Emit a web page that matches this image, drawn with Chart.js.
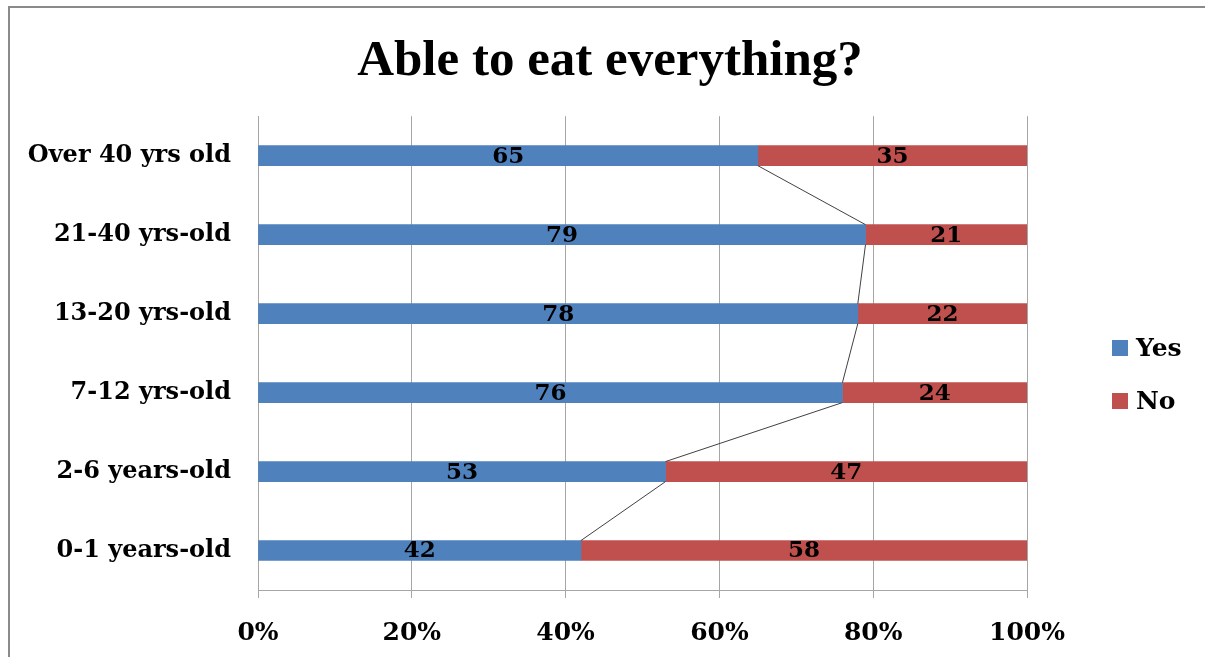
<!DOCTYPE html>
<html>
<head>
<meta charset="utf-8">
<script src="https://cdn.jsdelivr.net/npm/chart.js@4/dist/chart.umd.min.js"></script>
<style>
  html, body { margin: 0; padding: 0; width: 1205px; height: 657px; overflow: hidden; background: #ffffff; }
  #frame { position: absolute; left: 8px; top: 6px; width: 1400px; height: 900px; border: 2px solid #8a8a8a; box-sizing: border-box; }
  #wrap { position: absolute; left: 0; top: 0; width: 1205px; height: 657px; }
</style>
</head>
<body>
<div id="frame"></div>
<div id="wrap"><canvas id="c" width="1205" height="657"></canvas></div>
<script>
const categories = ["Over 40 yrs old", "21-40 yrs-old", "13-20 yrs-old", "7-12 yrs-old", "2-6 years-old", "0-1 years-old"];
const yesValues = [65, 79, 78, 76, 53, 42];
const noValues = [35, 21, 22, 24, 47, 58];
const seriesNames = ["Yes", "No"];
const xTicks = [0, 20, 40, 60, 80, 100];
const titleText = "Able to eat everything?";

const TITLE_FONT = "'Liberation Serif', 'Times New Roman', serif";
const FONT = "'DejaVu Serif', 'Liberation Serif', serif";
const BLUE = "#4F81BD";
const RED = "#C0504D";
const GRID = "#a6a6a6";

// Series lines joining the ends of the "Yes" bars (Excel series lines)
const seriesLinesPlugin = {
  id: 'seriesLines',
  afterDatasetsDraw(chart) {
    const meta = chart.getDatasetMeta(0);
    const ctx = chart.ctx;
    ctx.save();
    ctx.strokeStyle = "#404040";
    ctx.lineWidth = 1;
    for (let i = 0; i < meta.data.length - 1; i++) {
      const a = meta.data[i], b = meta.data[i + 1];
      ctx.beginPath();
      ctx.moveTo(a.x, a.y + a.height / 2);
      ctx.lineTo(b.x, b.y - b.height / 2);
      ctx.stroke();
    }
    ctx.restore();
  }
};

// Value labels centred in each segment
const valueLabelsPlugin = {
  id: 'valueLabels',
  afterDatasetsDraw(chart) {
    const ctx = chart.ctx;
    ctx.save();
    ctx.font = "bold 23px " + FONT;
    ctx.fillStyle = "#000";
    ctx.textAlign = "center";
    ctx.textBaseline = "middle";
    chart.data.datasets.forEach((ds, di) => {
      const meta = chart.getDatasetMeta(di);
      meta.data.forEach((el, i) => {
        const cx = (el.x + el.base) / 2;
        ctx.fillText(String(ds.data[i]), cx, el.y + 1);
      });
    });
    ctx.restore();
  }
};

// Legend on the right, drawn from the datasets
const sideLegendPlugin = {
  id: 'sideLegend',
  afterDraw(chart) {
    const ctx = chart.ctx;
    const area = chart.chartArea;
    ctx.save();
    ctx.font = "bold 25px " + FONT;
    ctx.textBaseline = "middle";
    ctx.textAlign = "left";
    const x0 = area.right + 85;
    const yStart = 348;
    const step = 53;
    chart.data.datasets.forEach((ds, i) => {
      const y = yStart + i * step;
      ctx.fillStyle = ds.backgroundColor;
      ctx.fillRect(x0, y - 8, 16, 16);
      ctx.fillStyle = "#000";
      ctx.fillText(ds.label, x0 + 24, y + 1);
    });
    ctx.restore();
  }
};

new Chart(document.getElementById('c'), {
  type: 'bar',
  data: {
    labels: categories,
    datasets: [
      { label: seriesNames[0], data: yesValues, backgroundColor: BLUE, borderWidth: 0 },
      { label: seriesNames[1], data: noValues, backgroundColor: RED, borderWidth: 0 }
    ]
  },
  options: {
    indexAxis: 'y',
    responsive: false,
    animation: false,
    devicePixelRatio: 1,
    barThickness: 20,
    layout: { padding: { left: 15, right: 0, top: 0, bottom: 0 } },
    plugins: {
      legend: { display: false },
      tooltip: { enabled: false },
      title: {
        display: true,
        text: titleText,
        color: "#000",
        font: { family: TITLE_FONT, size: 51, weight: 'bold' },
        padding: { top: 31, bottom: 24 }
      }
    },
    scales: {
      x: {
        stacked: true,
        min: 0,
        max: 100,
        afterBuildTicks(scale) { scale.ticks = xTicks.map(v => ({ value: v })); },
        afterFit(scale) { scale.height = 67; },
        grid: { color: GRID, lineWidth: 1, drawTicks: true, tickLength: 8 },
        border: { display: true, color: GRID, width: 1 },
        ticks: {
          color: "#000",
          padding: 20,
          font: { family: FONT, size: 25, weight: 'bold' },
          callback: v => v + '%',
          maxRotation: 0
        }
      },
      y: {
        stacked: true,
        afterFit(scale) { scale.width = 243; },
        grid: { display: false, drawTicks: false },
        border: { display: true, color: GRID, width: 1 },
        ticks: {
          color: "#000",
          padding: 27,
          font: { family: FONT, size: 24, weight: 'bold' }
        }
      },
      gap: {
        type: 'linear',
        position: 'right',
        axis: 'y',
        display: true,
        afterFit(scale) { scale.width = 178; },
        grid: { display: false, drawTicks: false },
        border: { display: false },
        ticks: { display: false }
      }
    }
  },
  plugins: [seriesLinesPlugin, valueLabelsPlugin, sideLegendPlugin]
});
</script>
</body>
</html>
